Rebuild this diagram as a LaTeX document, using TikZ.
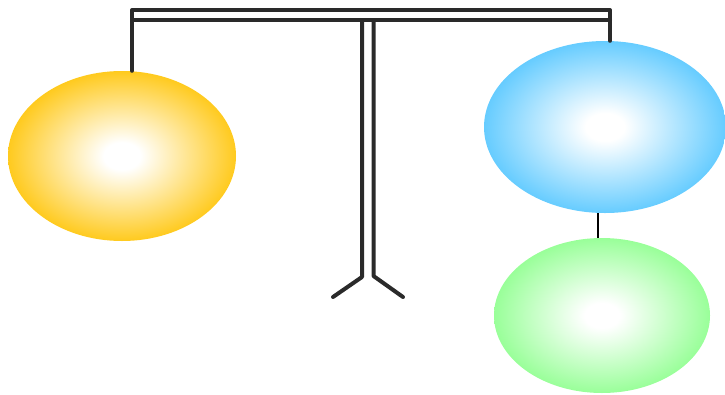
\documentclass[tikz,border=0pt]{standalone}
\usetikzlibrary{shapes.geometric}
\definecolor{barcol}{HTML}{2A2A2A}
\definecolor{yel}{HTML}{FFCA1E}
\definecolor{blu}{HTML}{66CCFF}
\definecolor{grn}{HTML}{99FF99}
\pgfdeclareradialshading{yelshade}{\pgfpoint{0bp}{0bp}}{color(0bp)=(white); color(4bp)=(white); color(25bp)=(yel); color(50bp)=(yel)}
\pgfdeclareradialshading{blushade}{\pgfpoint{0bp}{0bp}}{color(0bp)=(white); color(4bp)=(white); color(25bp)=(blu); color(50bp)=(blu)}
\pgfdeclareradialshading{grnshade}{\pgfpoint{0bp}{0bp}}{color(0bp)=(white); color(4bp)=(white); color(25bp)=(grn); color(50bp)=(grn)}
\tikzset{
  weight/.style={ellipse, inner sep=0pt},
  rod/.style={draw=barcol, line width=4pt, line cap=round, line join=round},
  thread/.style={draw=black, line width=2pt},
}
\begin{document}
\begin{tikzpicture}[x=1pt,y=-1pt]
\useasboundingbox (0,0) rectangle (725,394);
\node[weight, shading=yelshade, minimum width=228pt, minimum height=170pt] (y) at (122,156) {};
\node[weight, shading=blushade, minimum width=242pt, minimum height=172pt] (b) at (605,127) {};
\node[weight, shading=grnshade, minimum width=216pt, minimum height=155pt] (g) at (602,315.5) {};
\coordinate (tl) at (132,10);
\coordinate (tr) at (610,10);
\coordinate (bl) at (132,20);
\coordinate (br) at (610,20);
\coordinate (s1) at (362,20);
\coordinate (s2) at (373.5,20);
\coordinate (k1) at (362,277);
\coordinate (k2) at (373.5,276);
\coordinate (f1) at (333,297);
\coordinate (f2) at (403,297);
\coordinate (c) at (597.5,0);
\path[rod] (tl |- y.north) -- (tl) -- (tr) -- (tr |- b.north);
\path[rod] (bl) -- (br);
\path[rod] (s1) -- (k1) -- (f1);
\path[rod] (s2) -- (k2) -- (f2);
\path[thread] (c |- b.south) -- (c |- g.north);
\end{tikzpicture}
\end{document}
